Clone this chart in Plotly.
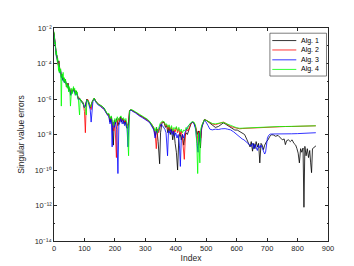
import numpy as np
import plotly.graph_objects as go

# ---- data (y values stored as log10 of the error) ----
alg1_idx = [0,2,4,6,8,10,12,14,16,18,20,22,24,26,28,31,34,37,40,43,46,49,52,55,58,61,64,67,70,73,76,80,84,88,92,96,100,104,108,112,116,120,124,128,132,136,140,146,152,158,164,170,176,180,184,188,192,195,198,202,206,210,214,218,222,226,230,234,238,242,245,248,252,258,265,272,280,290,300,308,315,322,328,333,337,342,347,350,354,358,362,366,370,374,378,382,386,390,394,398,402,406,410,414,418,422,426,430,434,438,442,446,450,455,460,465,470,474,478,481,485,490,494,500,510,520,530,540,550,556,562,570,578,586,594,602,610,618,626,634,640,644,648,652,656,660,664,668,672,676,680,684,688,692,698,703,709,714,720,728,736,744,750,756,760,764,770,776,782,788,794,798,802,806,810,814,818,821,824,828,832,836,840,843,846,849,853,857,860]
alg1_log = [-2.25,-2.7,-3.1,-3.3,-3.6,-3.55,-3.9,-4.05,-3.85,-4.3,-4.5,-4.4,-4.75,-4.6,-4.9,-4.8,-5.05,-4.9,-5.2,-5.3,-5.1,-5.5,-5.4,-5.75,-5.5,-5.6,-5.4,-5.45,-5.7,-5.55,-5.7,-6.0,-5.95,-6.1,-6.15,-6.2,-6.5,-6.3,-6.0,-6.1,-6.3,-6.5,-6.2,-6.05,-5.95,-6.1,-6.2,-6.3,-6.35,-6.45,-6.5,-6.7,-6.9,-6.85,-7.3,-7.0,-7.6,-8.6,-7.2,-7.4,-7.1,-7.5,-7.2,-7.0,-7.3,-7.1,-7.4,-7.2,-7.6,-7.65,-7.3,-6.65,-6.6,-6.65,-6.72,-6.8,-6.9,-7.0,-7.1,-7.18,-7.3,-7.5,-7.7,-8.1,-7.6,-8.4,-9.65,-7.9,-7.4,-7.3,-7.35,-7.6,-7.5,-7.9,-7.6,-8.0,-7.7,-8.3,-7.8,-8.5,-9.0,-10.0,-8.2,-7.9,-8.3,-8.0,-8.6,-8.1,-7.9,-8.0,-7.8,-7.6,-7.4,-7.3,-7.35,-7.6,-8.0,-7.8,-8.3,-8.76,-7.6,-7.3,-7.15,-7.2,-7.35,-7.5,-7.6,-7.55,-7.4,-7.35,-7.4,-7.5,-7.6,-7.7,-7.75,-7.75,-7.85,-7.95,-8.0,-8.3,-8.5,-8.7,-8.4,-8.94,-8.5,-8.8,-8.4,-8.7,-8.5,-9.6,-8.5,-8.6,-8.85,-8.6,-8.4,-8.3,-8.1,-8.02,-8.02,-8.1,-8.05,-8.2,-8.3,-8.25,-8.57,-8.35,-8.3,-8.4,-8.3,-8.5,-8.6,-8.8,-9.05,-9.6,-8.8,-9.0,-8.76,-12.1,-8.67,-9.2,-8.8,-9.3,-8.9,-9.6,-10.15,-8.8,-8.76,-8.67,-8.65]

alg2_idx = [0,2,4,6,8,10,12,14,16,18,20,22,24,26,28,31,34,37,40,43,46,49,52,55,58,61,64,67,70,73,76,80,84,88,92,96,100,103,106,110,114,118,122,126,130,134,138,144,150,156,162,168,174,180,184,188,192,196,200,205,208,212,216,220,224,228,232,236,240,244,248,252,258,265,272,280,290,300,308,315,322,328,332,336,340,344,348,352,356,362,366,370,374,378,382,386,390,394,398,402,406,410,414,418,422,428,432,436,440,444,448,452,456,460,465,470,474,478,482,486,490,494,500,510,520,530,540,550,556,562,570,580,590,600,610,620,630,640,650,660,670,680,690,700,720,740,760,780,800,820,840,860]
alg2_log = [-2.3,-2.75,-3.05,-3.4,-3.55,-3.7,-3.85,-4.1,-3.9,-4.35,-4.45,-4.5,-4.7,-4.65,-4.85,-4.85,-5.0,-5.0,-5.15,-5.35,-5.15,-5.45,-5.45,-5.7,-5.55,-5.55,-5.45,-5.5,-5.65,-5.6,-5.75,-5.95,-6.0,-6.05,-6.2,-6.25,-6.7,-7.9,-6.2,-6.0,-6.15,-6.35,-6.6,-6.15,-6.0,-6.0,-6.15,-6.25,-6.35,-6.4,-6.5,-6.65,-6.85,-6.9,-7.2,-7.05,-7.4,-7.8,-7.3,-9.3,-7.3,-7.1,-7.3,-7.05,-7.2,-7.15,-7.3,-7.25,-7.5,-7.4,-6.7,-6.62,-6.65,-6.75,-6.78,-6.92,-7.0,-7.12,-7.2,-7.32,-7.45,-7.65,-7.9,-8.8,-7.7,-7.9,-7.6,-7.35,-7.28,-7.3,-7.5,-7.45,-7.7,-7.5,-7.8,-7.6,-7.9,-7.7,-7.85,-7.6,-7.9,-7.7,-8.0,-7.8,-8.2,-9.4,-7.9,-7.7,-7.8,-7.6,-7.45,-7.35,-7.3,-7.35,-7.55,-7.9,-8.6,-7.8,-8.2,-7.5,-7.3,-7.18,-7.2,-7.3,-7.4,-7.45,-7.4,-7.35,-7.3,-7.35,-7.45,-7.55,-7.6,-7.65,-7.68,-7.66,-7.65,-7.64,-7.63,-7.62,-7.6,-7.6,-7.58,-7.57,-7.56,-7.56,-7.55,-7.55,-7.54,-7.53,-7.52,-7.51]

alg3_idx = [0,2,4,6,8,10,12,14,16,18,20,22,24,26,28,31,34,37,40,43,46,49,52,55,58,61,64,67,70,73,76,80,84,88,92,96,100,104,108,112,116,119,122,125,128,132,136,140,146,152,158,164,170,176,180,184,188,191,194,198,202,206,210,213,216,220,224,228,232,236,240,243,246,249,253,258,265,272,280,290,300,308,315,322,328,332,336,340,344,348,352,356,360,364,368,373,376,380,384,388,392,396,400,404,408,412,415,418,422,426,430,434,438,442,446,450,455,460,465,469,473,476,480,484,488,492,496,500,506,512,520,530,540,550,556,562,570,580,590,600,606,612,618,624,630,636,642,648,652,656,660,664,668,672,676,680,684,688,692,695,698,701,705,710,720,740,760,780,800,820,840,860]
alg3_log = [-2.35,-2.8,-3.0,-3.45,-3.6,-3.75,-3.9,-4.0,-4.0,-4.4,-4.55,-4.45,-4.8,-4.7,-4.95,-4.9,-5.1,-5.0,-5.25,-5.3,-5.2,-5.55,-5.5,-5.8,-5.6,-5.65,-5.5,-5.55,-5.75,-5.65,-5.8,-6.05,-6.0,-6.15,-6.2,-6.3,-6.5,-6.35,-6.05,-6.15,-6.35,-6.6,-7.3,-6.3,-6.1,-6.0,-6.15,-6.25,-6.35,-6.4,-6.5,-6.55,-6.75,-6.95,-7.0,-7.4,-7.1,-8.7,-7.3,-7.6,-7.3,-7.7,-10.2,-7.5,-7.3,-7.1,-7.4,-7.2,-7.5,-7.3,-7.7,-8.7,-7.4,-6.7,-6.62,-6.7,-6.75,-6.85,-6.95,-7.05,-7.15,-7.25,-7.35,-7.55,-7.75,-8.2,-7.8,-7.9,-7.7,-7.5,-7.4,-7.5,-7.6,-7.7,-7.9,-9.2,-7.8,-7.9,-7.7,-8.0,-7.8,-8.1,-7.9,-8.2,-8.0,-8.6,-9.8,-8.3,-8.0,-8.2,-7.9,-7.7,-7.6,-7.5,-7.4,-7.35,-7.3,-7.4,-7.7,-8.2,-9.0,-7.9,-8.4,-7.7,-7.4,-7.25,-7.2,-7.3,-7.5,-7.7,-7.74,-7.7,-7.72,-7.68,-7.67,-7.67,-7.7,-7.74,-7.85,-8.0,-8.1,-8.2,-8.25,-8.3,-8.4,-8.5,-8.6,-8.67,-8.5,-8.8,-8.55,-8.7,-8.9,-8.6,-8.75,-8.6,-8.8,-8.9,-9.1,-9.0,-8.5,-8.2,-8.05,-7.98,-7.97,-7.98,-7.97,-7.96,-7.95,-7.94,-7.92,-7.9]

alg4_idx = [0,1,2,3,4,5,6,7,8,9,10,11,12,13,14,15,16,17,18,20,22,24,26,28,30,32,34,36,38,40,42,44,46,48,50,52,54,56,58,60,62,64,66,68,70,72,74,76,78,80,82,84,86,88,92,96,100,104,106,108,112,116,120,124,128,132,136,140,146,152,158,164,170,176,180,184,188,192,196,200,204,208,212,216,220,224,228,232,236,240,245,248,252,258,265,272,280,290,300,308,315,322,328,332,336,340,344,348,352,356,362,366,370,374,378,382,386,390,394,398,402,406,410,414,418,422,426,430,434,438,442,446,450,455,460,465,469,472,475,479,482,486,490,494,500,510,520,530,540,550,556,562,570,580,590,600,610,620,630,640,650,660,670,680,690,700,720,740,760,780,800,820,840,860]
alg4_log = [-2.2,-2.6,-2.4,-2.9,-2.8,-3.2,-3.1,-3.5,-3.3,-3.7,-3.5,-3.9,-3.7,-4.2,-3.9,-4.4,-4.0,-4.5,-4.2,-4.5,-4.3,-6.4,-4.6,-4.8,-4.5,-5.0,-4.8,-5.1,-4.9,-5.3,-5.1,-5.4,-5.2,-5.6,-5.3,-5.5,-6.4,-5.6,-5.4,-5.7,-5.5,-5.3,-5.5,-5.4,-5.8,-5.5,-5.7,-5.6,-5.9,-6.0,-6.5,-6.9,-6.0,-6.1,-6.2,-6.25,-6.4,-6.6,-6.9,-6.05,-6.1,-6.3,-6.45,-6.2,-6.05,-5.95,-6.1,-6.2,-6.3,-6.35,-6.4,-6.5,-6.65,-6.85,-6.8,-7.1,-6.95,-7.3,-7.5,-7.1,-7.3,-7.0,-7.2,-7.05,-6.95,-7.15,-7.05,-7.2,-7.1,-7.4,-9.2,-6.68,-6.6,-6.62,-6.7,-6.76,-6.88,-6.98,-7.08,-7.15,-7.28,-7.42,-7.6,-7.8,-7.6,-7.9,-7.6,-7.4,-7.3,-7.25,-7.28,-7.45,-7.4,-7.6,-7.45,-7.7,-7.5,-7.8,-7.6,-7.7,-7.55,-7.8,-7.6,-7.85,-7.7,-7.9,-7.75,-7.8,-7.6,-7.7,-7.5,-7.4,-7.32,-7.28,-7.3,-7.5,-8.5,-10.2,-7.9,-9.6,-7.7,-7.45,-7.25,-7.17,-7.2,-7.28,-7.38,-7.4,-7.38,-7.34,-7.32,-7.36,-7.42,-7.5,-7.57,-7.62,-7.65,-7.64,-7.63,-7.62,-7.62,-7.61,-7.6,-7.59,-7.58,-7.57,-7.56,-7.55,-7.55,-7.54,-7.53,-7.53,-7.52,-7.51]

series_names = ["Alg. 1", "Alg. 2", "Alg. 3", "Alg. 4"]
series_colors = ["#000000", "#ff0000", "#0000ff", "#00ff00"]

x_ticks = [0, 100, 200, 300, 400, 500, 600, 700, 800, 900]
y_tick_exps = [-14, -12, -10, -8, -6, -4, -2]

SUP = str.maketrans("-0123456789", "\u207b\u2070\u00b9\u00b2\u00b3\u2074\u2075\u2076\u2077\u2078\u2079")

# ---- figure ----
AX = "#262626"
fig = go.Figure()
for name, xs, ls, col in zip(series_names,
                             [alg1_idx, alg2_idx, alg3_idx, alg4_idx],
                             [alg1_log, alg2_log, alg3_log, alg4_log],
                             series_colors):
    fig.add_trace(go.Scatter(x=xs, y=np.power(10.0, np.array(ls)), mode="lines",
                             name=name, showlegend=False,
                             line=dict(color=col, width=0.8)))

# MATLAB-style legend box (upper right, inside the axes)
L_X0, L_X1, L_Y0, L_Y1 = 0.788, 0.9945, 0.7745, 0.9755
row_y = [0.941, 0.8968, 0.8505, 0.8056]
shapes = [dict(type="rect", xref="paper", yref="paper", x0=L_X0, x1=L_X1, y0=L_Y0, y1=L_Y1,
               line=dict(color=AX, width=0.6), fillcolor="white", layer="above")]
annotations = []
for name, col, ry in zip(series_names, series_colors, row_y):
    shapes.append(dict(type="line", xref="paper", yref="paper", x0=0.7967, x1=0.8843,
                       y0=ry, y1=ry, line=dict(color=col, width=0.8), layer="above"))
    annotations.append(dict(xref="paper", yref="paper", x=0.8942, y=ry, text=name,
                            showarrow=False, xanchor="left", yanchor="middle",
                            font=dict(size=7, color="#000000")))

fig.update_layout(
    width=354, height=266,
    margin=dict(l=46, r=34, t=20, b=30),
    paper_bgcolor="white", plot_bgcolor="white",
    font=dict(family="Liberation Sans, Arial, sans-serif", size=7.5, color=AX),
    showlegend=False,
    shapes=shapes, annotations=annotations,
)
fig.update_xaxes(
    range=[0, 900], tickmode="array", tickvals=x_ticks,
    ticks="inside", ticklen=3, tickwidth=0.6, tickcolor=AX,
    showline=True, linecolor=AX, linewidth=0.6, mirror="ticks",
    showgrid=False, zeroline=False,
    title=dict(text="Index", font=dict(size=8.5), standoff=3),
)
fig.update_yaxes(
    type="log", range=[-14, -2], tickmode="array",
    tickvals=[10.0 ** e for e in y_tick_exps],
    ticktext=["10" + str(e).translate(SUP) for e in y_tick_exps],
    ticks="inside", ticklen=3, tickwidth=0.6, tickcolor=AX,
    minor=dict(ticks="inside", ticklen=1.5, tickcolor=AX,
               tickvals=[10.0 ** e for e in range(-14, -1)]),
    showline=True, linecolor=AX, linewidth=0.6, mirror="ticks",
    showgrid=False, zeroline=False,
    title=dict(text="Singular value errors", font=dict(size=8.5), standoff=8),
)

fig.write_html("out.html")
